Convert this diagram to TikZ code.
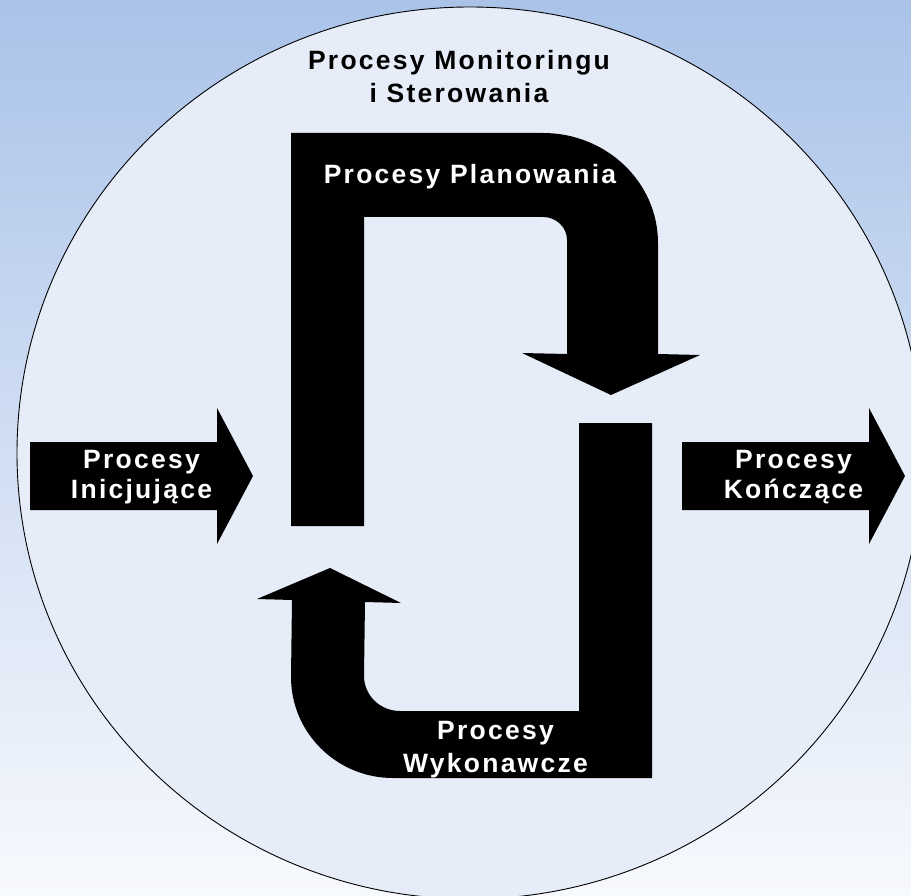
\documentclass[tikz,border=0pt]{standalone}
\usepackage{fontspec}
\setmainfont{Liberation Sans}[LetterSpace=8.5]
\definecolor{tlogora}{HTML}{AAC3E9}
\definecolor{tlodol}{HTML}{F7F9FD}
\definecolor{kolo}{HTML}{E6EDF8}
\begin{document}
\begin{tikzpicture}[x=1pt,y=-1pt,
	napis/.style={font=\fontsize{26.5}{33}\selectfont\bfseries,text=white,align=center,inner sep=0pt},
	napisbok/.style={napis,font=\fontsize{26.5}{30.7}\selectfont\bfseries}]
			\useasboundingbox (0,0) rectangle (911,896);
			\clip (0,0) rectangle (911,896);
			\shade[top color=tlogora,bottom color=tlodol](0,0) rectangle (911,896);
			\draw[line width=0.9pt,fill=kolo](470,453) ellipse [x radius=453,y radius=446];
			% strzalki boczne
			\fill(30,442)--(217,442)--(217,408)--(253,476)--(217,544)--(217,510)--(30,510)--cycle;
			\fill(682,442)--(869,442)--(869,408)--(905,476)--(869,544)--(869,510)--(682,510)--cycle;
			% planowanie
			\fill(291,133)--(543,133) arc[start angle=90,end angle=0,x radius=115pt,y radius=110pt]
				--(658,354)--(700,355)--(611,395)--(522,353)--(567,354)--(567,240)
				arc[start angle=0,end angle=90,x radius=24pt,y radius=23pt]
				--(364,217)--(364,526)--(291,526)--cycle;
			% wykonanie
			\fill(579,423)--(652,423)--(652,778)--(393,778)
				arc[start angle=270,end angle=180,x radius=102pt,y radius=101pt]
				--(292,600)--(257,599)--(330,568)--(401,603)--(365,602)--(364,676)
				arc[start angle=180,end angle=270,x radius=36pt,y radius=35pt]
				--(579,711)--cycle;
			%
			\node[napisbok] (inicjujace) at (141.5,477) {Procesy\\Inicjujące};
			\node[napisbok] (konczace) at (793.5,477) {Procesy\\Kończące};
			\node[napis,text=black] (monitoring) at (459,77) {Procesy Monitoringu\\i Sterowania};
			\node[napis,anchor=base] (planowanie) at (470,183.3) {Procesy Planowania};
			\node[napis] (wykonawcze) at (495.5,750) {Procesy\\Wykonawcze};
		\end{tikzpicture}
\end{document}
